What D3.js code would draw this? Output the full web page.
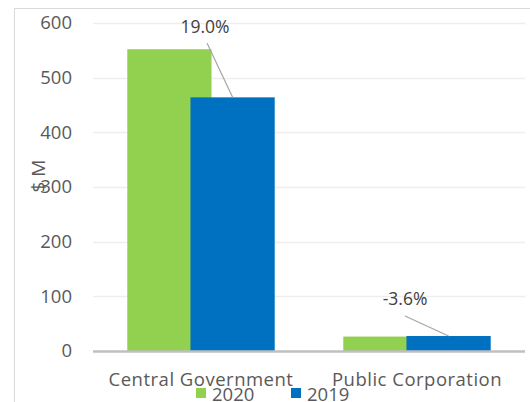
<!DOCTYPE html>
<html><head><meta charset="utf-8">
<script src="https://cdn.jsdelivr.net/npm/d3@7"></script>
<style>body{margin:0;background:#fff}svg{display:block}</style>
</head><body>
<svg id="c" width="530" height="402"></svg>
<script>
const categories = ["Central Government", "Public Corporation"];
const seriesNames = ["2020", "2019"];
const values2020 = [552, 26.4];
const values2019 = [464, 27.4];
const changeLabels = ["19.0%", "-3.6%"];
const yTicks = [0, 100, 200, 300, 400, 500, 600];

const svg = d3.select("#c");
const W = 530, H = 402;
const m = {left: 93, right: 5, top: 23, bottom: 51};
const x0 = d3.scaleBand().domain(categories).range([m.left, W - m.right]).paddingInner(0).paddingOuter(0);
const y = d3.scaleLinear().domain([0, 600]).range([H - m.bottom, m.top]);
const font = "'Open Sans', sans-serif";
const txt = "#595959";
const colors = {"2020": "#92d050", "2019": "#0070c0"};

// frame
svg.append("rect").attr("x", 14.5).attr("y", 8.5).attr("width", 600).attr("height", 500)
  .attr("fill", "none").attr("stroke", "#d9d9d9").attr("stroke-width", 1);

// gridlines
svg.append("g").selectAll("line").data(yTicks.filter(d => d > 0)).join("line")
  .attr("x1", m.left).attr("x2", W - m.right)
  .attr("y1", d => Math.round(y(d)) + 0.5).attr("y2", d => Math.round(y(d)) + 0.5)
  .attr("stroke", "#eeeeee").attr("stroke-width", 1.5);

// y axis labels
const yAxis = d3.axisLeft(y).tickValues(yTicks).tickSize(0).tickPadding(21);
const ya = svg.append("g").attr("transform", `translate(${m.left},0)`).call(yAxis);
ya.select(".domain").remove();
ya.selectAll("text").attr("font-family", font).attr("font-size", 18.5).attr("fill", txt);

// bars
const step = x0.step();
const bw = step * 0.39;
const ov = bw * 0.25;
const startOff = (step - (2 * bw - ov)) / 2;
const barX = (cat, s) => x0(cat) + startOff + s * (bw - ov);
const data = [values2020, values2019];
seriesNames.forEach((s, si) => {
  svg.append("g").selectAll("rect").data(categories).join("rect")
    .attr("x", c => barX(c, si))
    .attr("width", bw)
    .attr("y", (c, i) => y(data[si][i]))
    .attr("height", (c, i) => y(0) - y(data[si][i]))
    .attr("fill", colors[s]);
});

// axis line
svg.append("line").attr("x1", m.left).attr("x2", W - m.right)
  .attr("y1", y(0) + 0.5).attr("y2", y(0) + 0.5).attr("stroke", "#bfbfbf").attr("stroke-width", 2.5);

// data labels with leader lines
const labelPos = [
  {dx: 4, ty: 33, lx: 207, ly: 43},
  {dx: -12, ty: 305, lx: 405, ly: 316}
];
categories.forEach((c, i) => {
  const tx = x0(c) + x0.bandwidth() / 2 + labelPos[i].dx;
  const bx = barX(c, 1) + bw * 0.5;
  const by = y(values2019[i]);
  svg.append("line").attr("x1", labelPos[i].lx).attr("y1", labelPos[i].ly)
    .attr("x2", bx).attr("y2", by).attr("stroke", "#a6a6a6").attr("stroke-width", 1.2);
  svg.append("text").attr("x", tx).attr("y", labelPos[i].ty)
    .attr("text-anchor", "middle").attr("font-family", font).attr("font-size", 17.5)
    .attr("fill", "#404040").text(changeLabels[i]);
});

// category labels
const xAxis = d3.axisBottom(x0).tickSize(0).tickPadding(22);
const xa = svg.append("g").attr("transform", `translate(0,${y(0)})`).call(xAxis);
xa.select(".domain").remove();
xa.selectAll("text").attr("font-family", font).attr("font-size", 18.5).attr("fill", txt)
  .attr("letter-spacing", 0.5);

// y title
svg.append("text").attr("transform", "translate(45,176) rotate(-90)")
  .attr("text-anchor", "middle").attr("font-family", font).attr("font-size", 19).attr("fill", txt).text("$ M");

// legend
const leg = [{s: "2020", x: 196}, {s: "2019", x: 291}];
leg.forEach(l => {
  svg.append("rect").attr("x", l.x).attr("y", 388).attr("width", 10).attr("height", 10).attr("fill", colors[l.s]);
  svg.append("text").attr("x", l.x + 16).attr("y", 401).attr("font-family", font).attr("font-size", 18.5)
    .attr("fill", txt).text(l.s);
});
</script>
</body></html>
